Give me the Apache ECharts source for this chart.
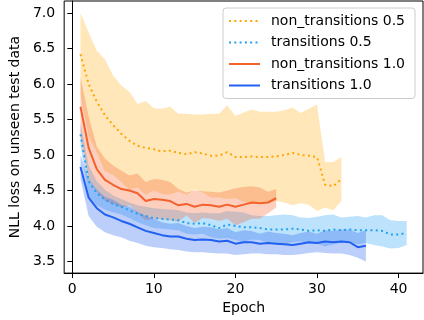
<!DOCTYPE html>
<html>
<head>
<meta charset="utf-8">
<script src="https://cdn.jsdelivr.net/npm/echarts@6/dist/echarts.min.js"></script>
<style>
  html, body { margin: 0; padding: 0; background: #fff; }
  #chart { width: 424px; height: 320px; }
</style>
</head>
<body>
<div id="chart"></div>
<script>
// tick labels
const xTicks = [0, 10, 20, 30, 40];
const yTicks = [3.5, 4.0, 4.5, 5.0, 5.5, 6.0, 6.5, 7.0];

// non_transitions 0.5  (epochs 1..33)
const nt05Mean = [6.42, 6.00, 5.75, 5.56, 5.42, 5.30, 5.20, 5.13, 5.10, 5.08, 5.05, 5.06, 5.03, 5.01, 5.04, 5.02, 4.99, 4.99, 5.04, 4.97, 4.97, 4.98, 4.97, 4.97, 4.98, 5.00, 5.03, 5.00, 4.99, 4.97, 4.58, 4.56, 4.66];
const nt05Upper = [7.00, 6.73, 6.47, 6.35, 6.12, 5.98, 5.89, 5.72, 5.76, 5.66, 5.65, 5.68, 5.58, 5.58, 5.57, 5.57, 5.58, 5.58, 5.70, 5.55, 5.60, 5.64, 5.61, 5.61, 5.61, 5.63, 5.67, 5.59, 5.65, 5.71, 4.90, 4.90, 4.97];
const nt05Lower = [5.84, 5.27, 5.03, 4.77, 4.72, 4.62, 4.51, 4.54, 4.44, 4.50, 4.45, 4.44, 4.48, 4.44, 4.51, 4.47, 4.40, 4.40, 4.38, 4.39, 4.34, 4.32, 4.33, 4.33, 4.35, 4.33, 4.29, 4.32, 4.30, 4.21, 4.26, 4.22, 4.35];

// transitions 0.5  (epochs 1..41)
const t05Mean = [5.29, 4.63, 4.46, 4.37, 4.31, 4.27, 4.22, 4.17, 4.14, 4.11, 4.10, 4.09, 4.08, 4.04, 4.03, 4.04, 4.01, 3.97, 4.02, 4.00, 3.98, 3.98, 3.97, 3.95, 3.95, 3.95, 3.96, 3.95, 3.93, 3.94, 3.93, 3.95, 3.94, 3.95, 3.94, 3.94, 3.94, 3.93, 3.88, 3.88, 3.90];
const t05Upper = [5.45, 4.85, 4.63, 4.51, 4.43, 4.38, 4.33, 4.29, 4.27, 4.25, 4.24, 4.23, 4.22, 4.19, 4.18, 4.19, 4.18, 4.18, 4.21, 4.20, 4.19, 4.15, 4.14, 4.14, 4.15, 4.16, 4.15, 4.12, 4.11, 4.13, 4.15, 4.16, 4.12, 4.13, 4.14, 4.12, 4.15, 4.15, 4.08, 4.07, 4.07];
const t05Lower = [5.13, 4.41, 4.29, 4.23, 4.19, 4.16, 4.11, 4.05, 4.01, 3.97, 3.96, 3.95, 3.94, 3.89, 3.88, 3.89, 3.84, 3.82, 3.83, 3.80, 3.77, 3.81, 3.80, 3.76, 3.75, 3.74, 3.77, 3.78, 3.75, 3.75, 3.71, 3.74, 3.76, 3.77, 3.74, 3.76, 3.73, 3.71, 3.68, 3.69, 3.73];

// non_transitions 1.0  (epochs 1..25)
const nt10Mean = [5.68, 5.10, 4.80, 4.65, 4.58, 4.52, 4.50, 4.46, 4.35, 4.38, 4.37, 4.35, 4.29, 4.31, 4.27, 4.30, 4.29, 4.27, 4.30, 4.27, 4.30, 4.33, 4.32, 4.33, 4.39];
const nt10Upper = [6.10, 5.55, 5.12, 4.95, 4.85, 4.78, 4.71, 4.74, 4.62, 4.66, 4.65, 4.62, 4.52, 4.47, 4.50, 4.49, 4.48, 4.47, 4.50, 4.53, 4.55, 4.56, 4.54, 4.48, 4.52];
const nt10Lower = [5.26, 4.65, 4.48, 4.35, 4.31, 4.26, 4.29, 4.18, 4.08, 4.10, 4.09, 4.08, 4.06, 4.15, 4.04, 4.11, 4.10, 4.07, 4.10, 4.01, 4.05, 4.10, 4.10, 4.18, 4.26];

// transitions 1.0  (epochs 1..36)
const t10Mean = [4.83, 4.40, 4.25, 4.16, 4.12, 4.07, 4.03, 3.98, 3.93, 3.90, 3.87, 3.85, 3.85, 3.82, 3.80, 3.81, 3.80, 3.78, 3.79, 3.75, 3.77, 3.77, 3.75, 3.76, 3.75, 3.74, 3.73, 3.75, 3.77, 3.76, 3.78, 3.77, 3.78, 3.77, 3.70, 3.72];
const t10Upper = [5.00, 4.66, 4.51, 4.41, 4.37, 4.30, 4.27, 4.20, 4.14, 4.10, 4.05, 4.03, 4.04, 4.00, 3.97, 3.99, 3.98, 3.95, 3.97, 3.91, 3.94, 3.93, 3.89, 3.92, 3.90, 3.89, 3.87, 3.90, 3.92, 3.89, 3.94, 3.93, 3.95, 3.95, 3.90, 3.94];
const t10Lower = [4.66, 4.14, 3.99, 3.91, 3.87, 3.84, 3.79, 3.76, 3.72, 3.70, 3.69, 3.67, 3.66, 3.64, 3.63, 3.63, 3.62, 3.61, 3.61, 3.59, 3.60, 3.61, 3.61, 3.60, 3.60, 3.59, 3.59, 3.60, 3.62, 3.63, 3.62, 3.61, 3.61, 3.59, 3.55, 3.50];

const pts = (arr) => arr.map((v, i) => [i + 1, v]);

// shaded band: one polygon (lower edge forward, upper edge back), placed by the axes
function band(lower, upper, fill) {
  const data = lower.map((v, i) => [i + 1, v, upper[i]]);
  return {
    type: "custom", silent: true, z: 1, clip: true,
    data: data,
    encode: { x: 0, y: [1, 2] },
    renderItem: function (params, api) {
      if (params.dataIndex !== 0) return null;
      const lo = data.map((d) => api.coord([d[0], d[1]]));
      const up = data.map((d) => api.coord([d[0], d[2]])).reverse();
      return {
        type: "polygon",
        shape: { points: lo.concat(up) },
        style: { fill: fill },
      };
    },
  };
}

function meanLine(name, arr, color, type) {
  return {
    name: name, type: "line", symbol: "none", z: 3,
    lineStyle: { color: color, width: 2, type: type },
    itemStyle: { color: color },
    data: pts(arr),
  };
}

const dotted = [2, 3.3];
const font = "DejaVu Sans";

const option = {
  animation: false,
  grid: {
    left: 51, right: 1, top: 1, bottom: 42,
    show: true, borderColor: "#000", borderWidth: 1, backgroundColor: "transparent",
  },
  legend: {
    orient: "vertical",
    left: 223, top: 8,
    data: ["non_transitions 0.5", "transitions 0.5", "non_transitions 1.0", "transitions 1.0"],
    itemWidth: 31, itemHeight: 14, itemGap: 7.5,
    itemStyle: { opacity: 0 },
    padding: [6, 10, 6, 5],
    backgroundColor: "rgba(255,255,255,0.8)",
    borderColor: "#cccccc", borderWidth: 1, borderRadius: 3,
    textStyle: { fontFamily: font, fontSize: 14, color: "#000", padding: [0, 0, 0, 6] },
  },
  xAxis: {
    type: "value", min: -1, max: 43,
    name: "Epoch", nameLocation: "middle", nameGap: 24,
    nameTextStyle: { fontFamily: font, fontSize: 14, color: "#000" },
    axisLine: { lineStyle: { color: "#000", width: 1 } },
    axisTick: { customValues: xTicks, length: 5, lineStyle: { color: "#000" } },
    axisLabel: { customValues: xTicks, margin: 9, fontFamily: font, fontSize: 14, color: "#000" },
    splitLine: { show: false },
  },
  yAxis: {
    type: "value", min: 3.335, max: 7.17,
    name: "NLL loss on unseen test data", nameLocation: "middle", nameGap: 38,
    nameTextStyle: { fontFamily: font, fontSize: 14, color: "#000" },
    axisLine: { show: true, lineStyle: { color: "#000", width: 1 } },
    axisTick: { show: true, customValues: yTicks, length: 5, lineStyle: { color: "#000" } },
    axisLabel: {
      customValues: yTicks, margin: 9, fontFamily: font, fontSize: 14, color: "#000",
      formatter: (v) => v.toFixed(1),
    },
    splitLine: { show: false },
  },
  series: [
    band(nt05Lower, nt05Upper, "rgba(255,165,0,0.27)"),
    band(t05Lower, t05Upper, "rgba(35,160,245,0.3)"),
    band(nt10Lower, nt10Upper, "rgba(245,97,42,0.3)"),
    band(t10Lower, t10Upper, "rgba(33,96,240,0.3)"),
    meanLine("non_transitions 0.5", nt05Mean, "#ffa500", dotted),
    meanLine("transitions 0.5", t05Mean, "#23a0f5", dotted),
    meanLine("non_transitions 1.0", nt10Mean, "#f4612a", "solid"),
    meanLine("transitions 1.0", t10Mean, "#2160f0", "solid"),
  ],
};

const chart = echarts.init(document.getElementById("chart"));
chart.setOption(option);
</script>
</body>
</html>
